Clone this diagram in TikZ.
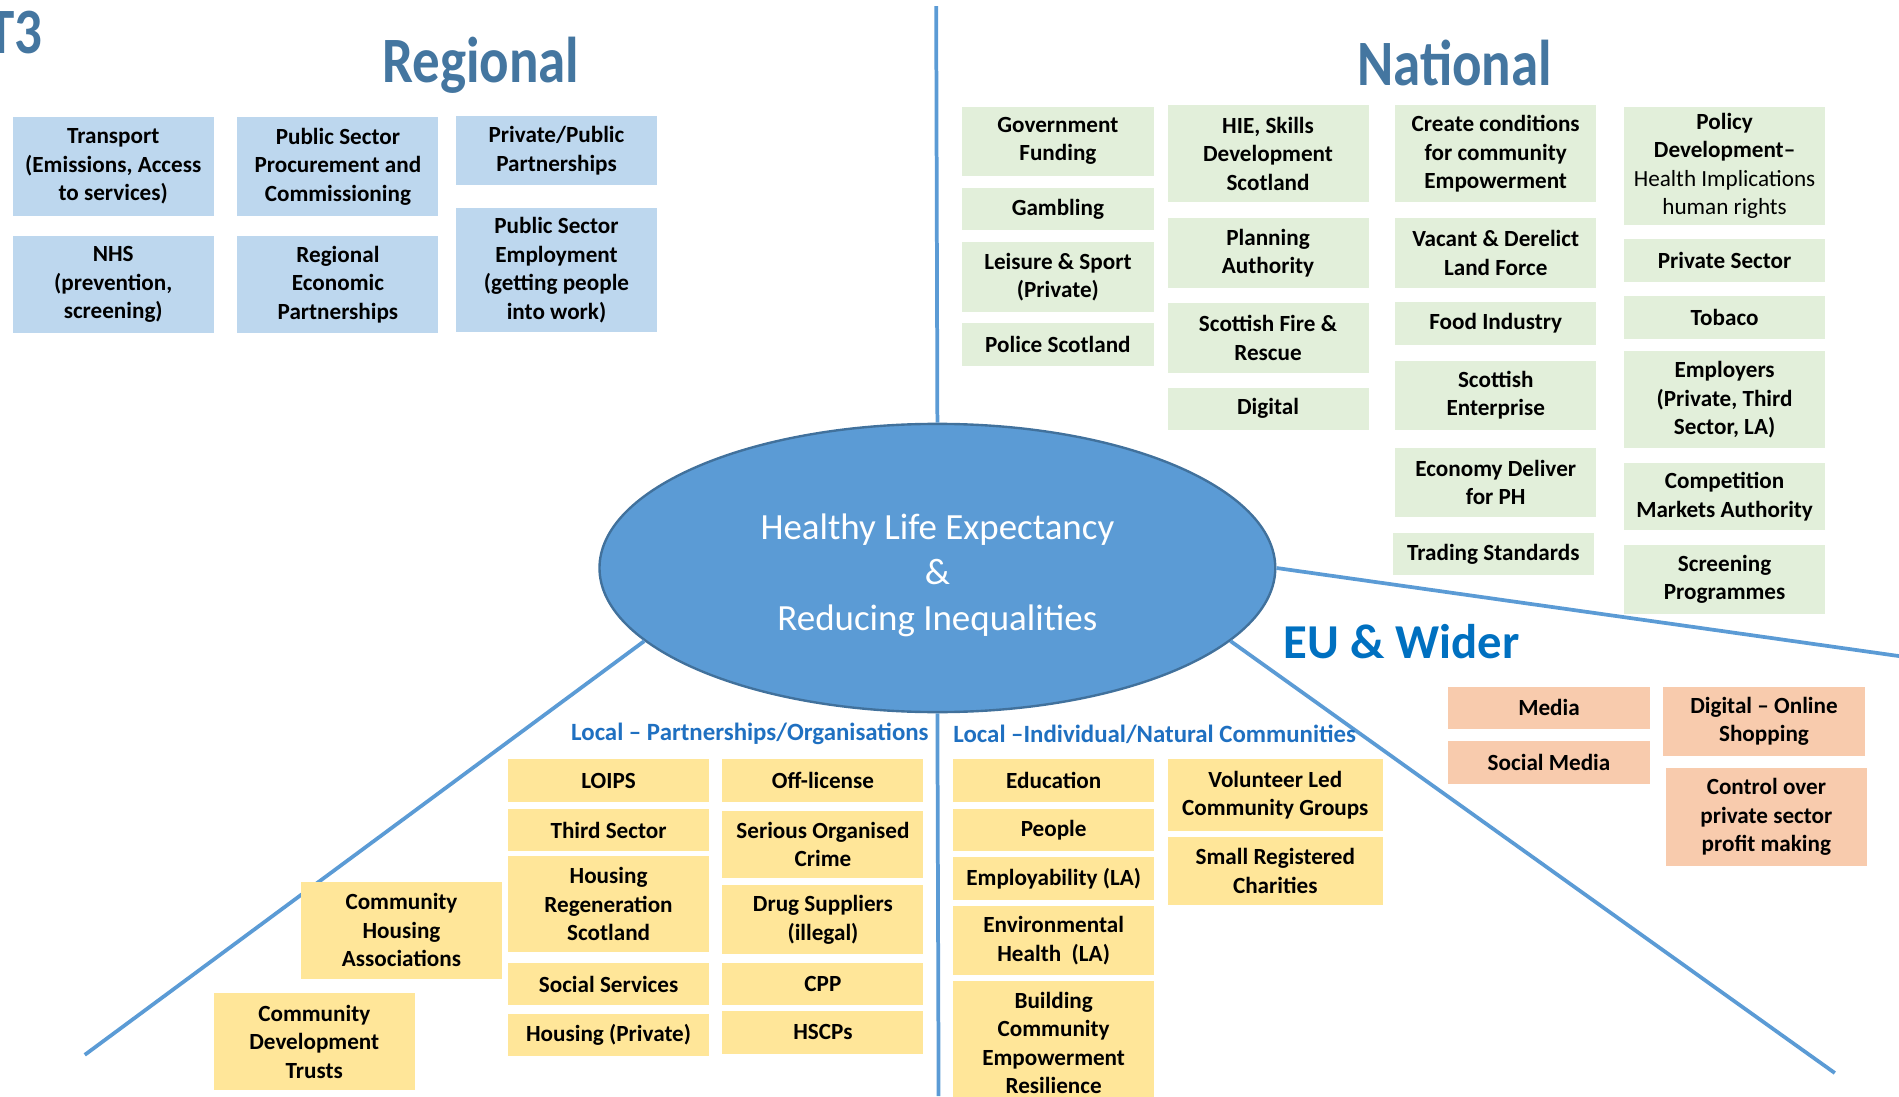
\documentclass[tikz,border=0pt]{standalone}
\usepackage{fontspec}
\setmainfont{Carlito}
\newfontfamily\headfont{Carlito}[FakeStretch=0.85]
\usetikzlibrary{shapes.geometric}

\definecolor{spoke}{RGB}{91,155,213}
\definecolor{hlerim}{RGB}{65,113,156}
\definecolor{regfill}{RGB}{189,215,238}
\definecolor{natfill}{RGB}{226,239,218}
\definecolor{eufill}{RGB}{248,203,173}
\definecolor{locfill}{RGB}{255,230,153}
\definecolor{headblue}{RGB}{68,118,160}
\definecolor{eublue}{RGB}{0,112,192}
\definecolor{locblue}{RGB}{31,112,193}

\newcommand{\boxfont}{\fontsize{13.6}{16.7}\selectfont\bfseries}

\tikzset{
	box/.style={inner sep=0pt, align=center, text=black, minimum width=166*0.25mm, font=\boxfont},
	tall/.style={minimum height=#1*0.25mm},
	wide/.style={minimum width=#1*0.25mm},
	reg/.style={box, fill=regfill},
	nat/.style={box, fill=natfill},
	wider/.style={box, fill=eufill},
	loc/.style={box, fill=locfill},
	heading/.style={text=headblue, font=\headfont\bfseries\fontsize{38}{40}\selectfont},
	sublabel/.style={text=locblue, font=\fontsize{14.6}{16}\selectfont\bfseries, inner sep=0pt},
	spokeline/.style={draw=spoke, line width=2.2pt}
}

\begin{document}
\begin{tikzpicture}[x=0.25mm, y=-0.25mm]
	\useasboundingbox (0,0) rectangle (1568,905);
	\node[heading, anchor=east] (tag) at (40,27) {T3};
	\node[heading] (regional) at (397,54) {Regional};
	\node[heading] (national) at (1201,52) {National};
	\node[text=eublue, font=\fontsize{28.6}{32}\selectfont\bfseries, anchor=west] (eu) at (1055,530) {EU \& Wider};

	\node[ellipse, fill=spoke, draw=hlerim, line width=1.4pt, minimum width=558*0.25mm, minimum height=238*0.25mm,
		text=white, align=center, font=\fontsize{21.7}{26.5}\selectfont] (hle) at (774,469)
		{\rule{0pt}{23.6pt}Healthy Life Expectancy\\\&\\Reducing Inequalities};

	\coordinate (topend) at (773,5);
	\coordinate (botend) at (775,905);
	\coordinate (rightend) at (1570,542);
	\coordinate (lrend) at (1515,886);
	\coordinate (llend) at (70,871);
	\draw[spokeline] (hle.north) -- (topend);
	\draw[spokeline] (hle.south) -- (botend);
	\draw[spokeline] (hle.east) -- (rightend);
	\draw[spokeline] (hle.-14) -- (lrend);
	\draw[spokeline] (hle.194) -- (llend);

	\node[reg, tall=81] (transport) at (93.5,137.5) {Transport\\(Emissions, Access\\to services)};
	\node[reg, tall=81] (procure) at (279,137.5) {Public Sector\\Procurement and\\Commissioning};
	\node[reg, tall=57] (ppp) at (459.5,124.5) {Private/Public\\Partnerships};
	\node[reg, tall=80] (nhs) at (93.5,235) {NHS\\(prevention,\\screening)};
	\node[reg, tall=80] (regecon) at (279,235) {Regional\\Economic\\Partnerships};
	\node[reg, tall=102] (pubemploy) at (459.5,223) {Public Sector\\Employment\\(getting people\\into work)};

	\node[nat, wide=159, tall=57] (govfund) at (873.5,116.5) {Government\\Funding};
	\node[nat, wide=159, tall=35] (gambling) at (873.5,172.5) {Gambling};
	\node[nat, wide=159, tall=58] (leisure) at (873.5,229) {Leisure \& Sport\\(Private)};
	\node[nat, wide=159, tall=35] (police) at (873.5,284.5) {Police Scotland};

	\node[nat, tall=80] (hie) at (1047,127) {HIE, Skills\\Development\\Scotland};
	\node[nat, tall=58] (planning) at (1047,209) {Planning\\Authority};
	\node[nat, tall=58] (fire) at (1047,279) {Scottish Fire \&\\Rescue};
	\node[nat, tall=35] (digital) at (1047,337.5) {Digital};

	\node[nat, tall=80] (conditions) at (1235,127) {Create conditions\\for community\\Empowerment};
	\node[nat, tall=58] (vacant) at (1235,209) {Vacant \& Derelict\\Land Force};
	\node[nat, tall=36] (food) at (1235,267) {Food Industry};
	\node[nat, tall=57] (enterprise) at (1235,326.5) {Scottish\\Enterprise};
	\node[nat, tall=57] (economy) at (1235,398.5) {Economy Deliver\\for PH};
	\node[nat, tall=35] (trading) at (1233,457.5) {Trading Standards};

	\node[nat, tall=98] (policy) at (1424,137) {Policy\\Development–\\{\mdseries Health Implications}\\{\mdseries human rights}};
	\node[nat, tall=36] (privsector) at (1424,215) {Private Sector};
	\node[nat, tall=36] (tobaco) at (1424,262) {Tobaco};
	\node[nat, tall=80] (employers) at (1424,330) {Employers\\(Private, Third\\Sector, LA)};
	\node[nat, tall=56] (competition) at (1424,410) {Competition\\Markets Authority};
	\node[nat, tall=57] (screening) at (1424,478.5) {Screening\\Programmes};

	\node[wider, tall=35] (media) at (1279,584.5) {Media};
	\node[wider, tall=35] (socmedia) at (1279,629.5) {Social Media};
	\node[wider, tall=57] (online) at (1456.5,595.5) {Digital – Online\\Shopping};
	\node[wider, tall=81] (profit) at (1458.5,674.5) {Control over\\private sector\\profit making};

	\node[sublabel, anchor=east] (partners) at (767,606) {Local – Partnerships/Organisations};
	\node[sublabel, anchor=west] (natural) at (787,606) {Local –Individual/Natural Communities};

	\node[loc, tall=35] (loips) at (502.5,644.5) {LOIPS};
	\node[loc, tall=35] (third) at (502.5,685.5) {Third Sector};
	\node[loc, tall=79] (regen) at (502.5,746.5) {Housing\\Regeneration\\Scotland};
	\node[loc, tall=35] (socserv) at (502.5,812.5) {Social Services};
	\node[loc, tall=35] (housprivate) at (502.5,854.5) {Housing (Private)};

	\node[loc, tall=35] (offlicense) at (679.5,644.5) {Off-license};
	\node[loc, tall=55] (crime) at (679.5,697.5) {Serious Organised\\Crime};
	\node[loc, tall=57] (drugs) at (679.5,759.5) {Drug Suppliers\\(illegal)};
	\node[loc, tall=35] (cpp) at (679.5,812.5) {CPP};
	\node[loc, tall=35] (hscp) at (679.5,852.5) {HSCPs};

	\node[loc, tall=80] (comhousing) at (331.5,768) {Community\\Housing\\Associations};
	\node[loc, tall=80] (comdev) at (259.5,860) {Community\\Development\\Trusts};

	\node[loc, tall=35] (education) at (870,644.5) {Education};
	\node[loc, tall=35] (people) at (870,685.5) {People};
	\node[loc, tall=35] (employ) at (870,725.5) {Employability (LA)};
	\node[loc, tall=57] (envhealth) at (870,776.5) {Environmental\\Health~~(LA)};
	\node[loc, tall=102] (building) at (870,861) {Building\\Community\\Empowerment\\Resilience};

	\node[loc, wide=178, tall=59] (volunteer) at (1053,656.5) {Volunteer Led\\Community Groups};
	\node[loc, wide=178, tall=56] (charities) at (1053,719) {Small Registered\\Charities};
\end{tikzpicture}
\end{document}
